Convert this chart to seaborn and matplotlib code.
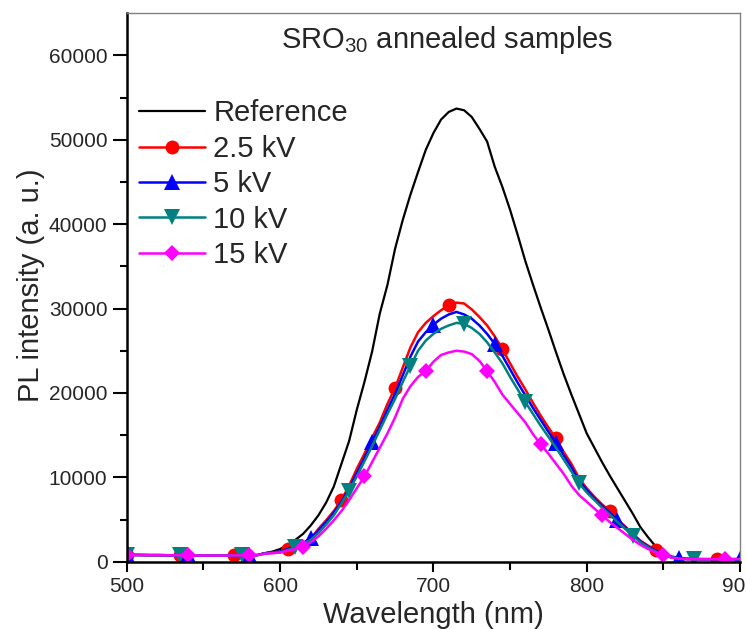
import numpy as np
import pandas as pd
import matplotlib
matplotlib.use("Agg")
import matplotlib.pyplot as plt
import seaborn as sns

# ---------------- data ----------------
wavelength = list(range(500, 901, 5))

base = [800, 800, 790, 780, 780, 770, 760, 760, 750, 740, 740, 740, 730, 730, 740, 750, 760, 780]  # 500..585

reference = base + [
    1000, 1200, 1500, 2000, 2600, 3300, 4300, 5500, 7000, 8900,      # 590..635
    11600, 14300, 18000, 21300, 24900, 29400, 32800, 37100, 40500, 43500,  # 640..685
    46200, 48800, 50800, 52400, 53300, 53700, 53500, 52700, 51300, 49800,  # 690..735
    46800, 44400, 41700, 38700, 35600, 32800, 30100, 27500, 24800, 22200,  # 740..785
    19800, 17500, 15200, 13500, 11800, 10200, 8700, 7200, 5700, 4100,     # 790..835
    2900, 1800, 900, 500, 350, 300, 300, 300, 300, 300, 300, 300, 300]    # 840..900

kv_2_5 = base + [
    1000, 1100, 1200, 1500, 1800, 2100, 2700, 3900, 4900, 6000,
    7300, 9000, 11000, 12800, 14700, 16500, 18700, 20600, 23000, 25400,
    27200, 28300, 29100, 29800, 30400, 30700, 30600, 29900, 29000, 28000,
    26700, 25200, 23500, 21900, 20400, 18800, 17300, 15900, 14600, 13000,
    11600, 9900, 8700, 7700, 6800, 6000, 5000, 4200, 3300, 2500,
    1900, 1400, 1000, 600, 450, 350, 320, 300, 300, 300, 300, 300, 300]

kv_5 = base + [
    1000, 1100, 1200, 1500, 1800, 2200, 2800, 3700, 4700, 5800,
    7100, 8700, 10500, 12300, 14200, 16000, 18000, 19900, 22100, 24300,
    26100, 27200, 28100, 28800, 29300, 29600, 29300, 28800, 28000, 27000,
    25800, 24400, 22800, 21200, 19700, 18200, 16800, 15400, 14100, 12600,
    11200, 9600, 8500, 7500, 6600, 5800, 4900, 4100, 3200, 2400,
    1800, 1300, 900, 600, 450, 350, 320, 300, 300, 300, 300, 300, 300]

kv_10 = base + [
    950, 1050, 1100, 1400, 1700, 2100, 2600, 3400, 4400, 5500,
    6900, 8400, 10100, 11900, 13700, 15600, 17500, 19300, 21300, 23200,
    25000, 26200, 27000, 27600, 28000, 28300, 28200, 27700, 27000, 26000,
    24800, 23500, 21900, 20400, 18900, 17500, 16100, 14800, 13500, 12100,
    10700, 9300, 8200, 7300, 6400, 5600, 4700, 3900, 3100, 2300,
    1700, 1200, 850, 550, 400, 300, 300, 300, 300, 300, 300, 300, 300]

kv_15 = base + [
    950, 1000, 1100, 1300, 1500, 1800, 2300, 3000, 3900, 4900,
    6000, 7300, 8700, 10100, 11800, 13500, 15200, 17100, 19300, 20800,
    21900, 22600, 23700, 24500, 24800, 25000, 24900, 24600, 23800, 22600,
    21300, 19800, 18700, 17600, 16500, 15100, 13900, 12800, 11600, 10400,
    9000, 7900, 7100, 6300, 5500, 4700, 4000, 3300, 2600, 2000,
    1500, 1100, 800, 500, 350, 300, 300, 300, 300, 300, 300, 300, 300]

series_labels = ["Reference", "2.5 kV", "5 kV", "10 kV", "15 kV"]
x_ticks = [500, 600, 700, 800, 900]
y_ticks = [0, 10000, 20000, 30000, 40000, 50000, 60000]

# ---------------- style ----------------
sns.set_style("ticks")
plt.rcParams["font.family"] = ["Liberation Sans", "DejaVu Sans"]
plt.rcParams["mathtext.fontset"] = "custom"
plt.rcParams["mathtext.rm"] = "Liberation Sans"
plt.rcParams["mathtext.it"] = "Liberation Sans:italic"

fig = plt.figure(figsize=(7.46, 6.29), dpi=100)
ax = fig.add_axes([0.170, 0.107, 0.822, 0.872])

df = pd.DataFrame({"wavelength": wavelength, "Reference": reference,
                   "2.5 kV": kv_2_5, "5 kV": kv_5, "10 kV": kv_10, "15 kV": kv_15})

sns.lineplot(data=df, x="wavelength", y="Reference", ax=ax, color="black",
             linewidth=1.6, label=series_labels[0])
sns.lineplot(data=df, x="wavelength", y="2.5 kV", ax=ax, color="#FF0000",
             linewidth=1.8, marker="o", markersize=10, markeredgewidth=0,
             markevery=[0, 7, 14, 21, 28, 35, 42, 49, 56, 63, 69, 77],
             label=series_labels[1])
sns.lineplot(data=df, x="wavelength", y="5 kV", ax=ax, color="#0000FF",
             linewidth=1.8, marker="^", markersize=11, markeredgewidth=0,
             markevery=[0, 8, 16, 24, 32, 40, 48, 56, 64, 72, 80],
             label=series_labels[2])
sns.lineplot(data=df, x="wavelength", y="10 kV", ax=ax, color="#008080",
             linewidth=1.8, marker="v", markersize=11, markeredgewidth=0,
             markevery=[0, 7, 15, 22, 29, 37, 44, 52, 59, 66, 74],
             label=series_labels[3])
sns.lineplot(data=df, x="wavelength", y="15 kV", ax=ax, color="#FF00FF",
             linewidth=1.8, marker="D", markersize=8.5, markeredgewidth=0,
             markevery=[0, 8, 16, 23, 31, 39, 47, 54, 62, 70, 78],
             label=series_labels[4])

ax.set_xlim(500, 900)
ax.set_ylim(0, 65000)
ax.set_xticks(x_ticks)
ax.set_yticks(y_ticks)
ax.set_xticks(np.arange(550, 900, 100), minor=True)
ax.set_yticks(np.arange(5000, 65000, 10000), minor=True)
ax.tick_params(axis="both", which="major", labelsize=15, color="black", width=1.5)
ax.tick_params(axis="x", which="major", length=7, pad=4)
ax.tick_params(axis="y", which="major", length=10, pad=4)
ax.tick_params(axis="x", which="minor", length=6, width=1.5, color="black")
ax.tick_params(axis="y", which="minor", length=5, width=1.5, color="black")

for s in ["left", "bottom"]:
    ax.spines[s].set_color("black")
    ax.spines[s].set_linewidth(1.8)
for s in ["top", "right"]:
    ax.spines[s].set_color("#808080")
    ax.spines[s].set_linewidth(1.0)

ax.set_xlabel("Wavelength (nm)", fontsize=21)
ax.set_ylabel("PL intensity (a. u.)", fontsize=21)
ax.xaxis.set_label_coords(0.5, -0.071)
ax.yaxis.set_label_coords(-0.134, 0.504)

ax.text(0.522, 0.936, r"SRO$_{\mathrm{30}}$ annealed samples", transform=ax.transAxes,
        ha="center", va="baseline", fontsize=21)

leg = ax.legend(loc="upper left", bbox_to_anchor=(0.02, 0.843), frameon=False,
                fontsize=21, handlelength=2.25, handletextpad=0.3,
                labelspacing=0.255, borderpad=0, borderaxespad=0, numpoints=1)

fig.savefig("out.png", dpi=100)
